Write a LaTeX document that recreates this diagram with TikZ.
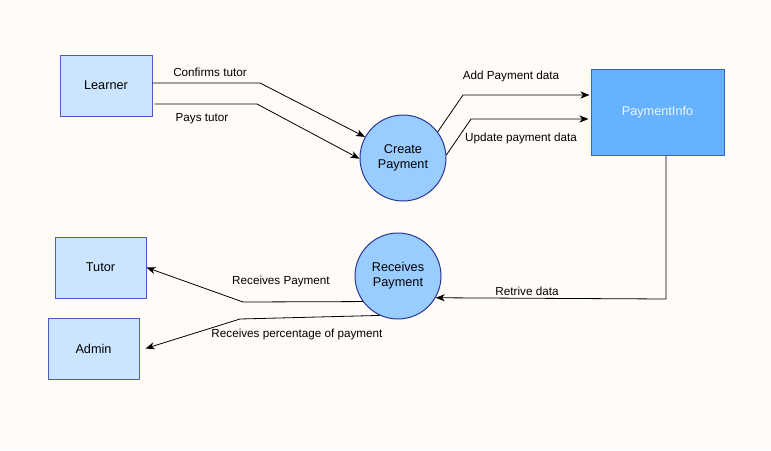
\documentclass[tikz,border=0pt]{standalone}
\usepackage{fontspec}
\setmainfont{Liberation Sans}
\usetikzlibrary{arrows.meta}
\definecolor{bg}{HTML}{FFFCF8}
\definecolor{boxfill}{HTML}{CCE5FF}
\definecolor{boxline}{HTML}{5555C8}
\definecolor{circfill}{HTML}{99CCFF}
\definecolor{circline}{HTML}{2A3594}
\definecolor{infofill}{HTML}{66B2FF}
\definecolor{infoline}{HTML}{3366CC}
\definecolor{infotext}{HTML}{EEF5FF}
\tikzset{
  ent/.style={draw=boxline, fill=boxfill, line width=1pt, minimum width=91pt, minimum height=61pt, inner sep=0pt, font=\fontsize{12.7}{15}\selectfont},
  proc/.style={circle, draw=circline, fill=circfill, line width=1pt, minimum size=86pt, inner sep=0pt, align=center, font=\fontsize{12.7}{15}\selectfont},
  store/.style={draw=infoline, fill=infofill, line width=1pt, minimum width=133pt, minimum height=86pt, inner sep=0pt, text=infotext, font=\fontsize{12.7}{15}\selectfont},
  arr/.style={draw=black, line width=0.8pt, -{Stealth[length=9pt,width=7pt,inset=2.5pt]}},
  lbl/.style={inner sep=0pt, font=\fontsize{11.7}{14}\selectfont}
}
\begin{document}
\begin{tikzpicture}[x=1pt,y=-1pt]
\fill[bg] (0,0) rectangle (771,450);
\useasboundingbox (0,0) rectangle (771,450);

\node[ent, minimum width=92pt] (learner) at (106,85.5) {Learner};
\node[proc] (cp) at (403,158) {Create\\Payment};
\node[store] (pinfo) at (657.5,112) {PaymentInfo};
\node[proc] (rp) at (398,276) {Receives\\Payment};
\node[ent] (tutor) at (100.5,267.5) {Tutor};
\node[ent] (admin) at (93.5,348.5) {Admin};

\draw[arr] ([yshift=2.5pt]learner.east) -- (260,83) -- (cp.151);
\draw[arr] ([yshift=-18.5pt,xshift=2pt]learner.east) -- (257,104) -- (cp.181);
\draw[arr] (cp.37) -- (463,95) -- ([yshift=17pt,xshift=-1pt]pinfo.west);
\draw[arr] (cp.4) -- (471,119) -- ([yshift=-7pt,xshift=-2pt]pinfo.west);
\draw[arr] ([xshift=8.5pt]pinfo.south) -- (666,299) -- (rp.-30);
\draw[arr] (rp.216) -- (243,302) -- (tutor.east);
\draw[arr] (rp.245) -- (240,319) -- ([xshift=6pt]admin.east);

\node[lbl] (l1) at (210,72) {Confirms tutor};
\node[lbl] (l2) at (202,119) {Pays tutor};
\node[lbl] (l3) at (511,76) {Add Payment data};
\node[lbl] (l4) at (521,138) {Update payment data};
\node[lbl] (l5) at (527,291) {Retrive data};
\node[lbl] (l6) at (281,281) {Receives Payment};
\node[lbl] (l7) at (297,334) {Receives percentage of payment};
\end{tikzpicture}
\end{document}
